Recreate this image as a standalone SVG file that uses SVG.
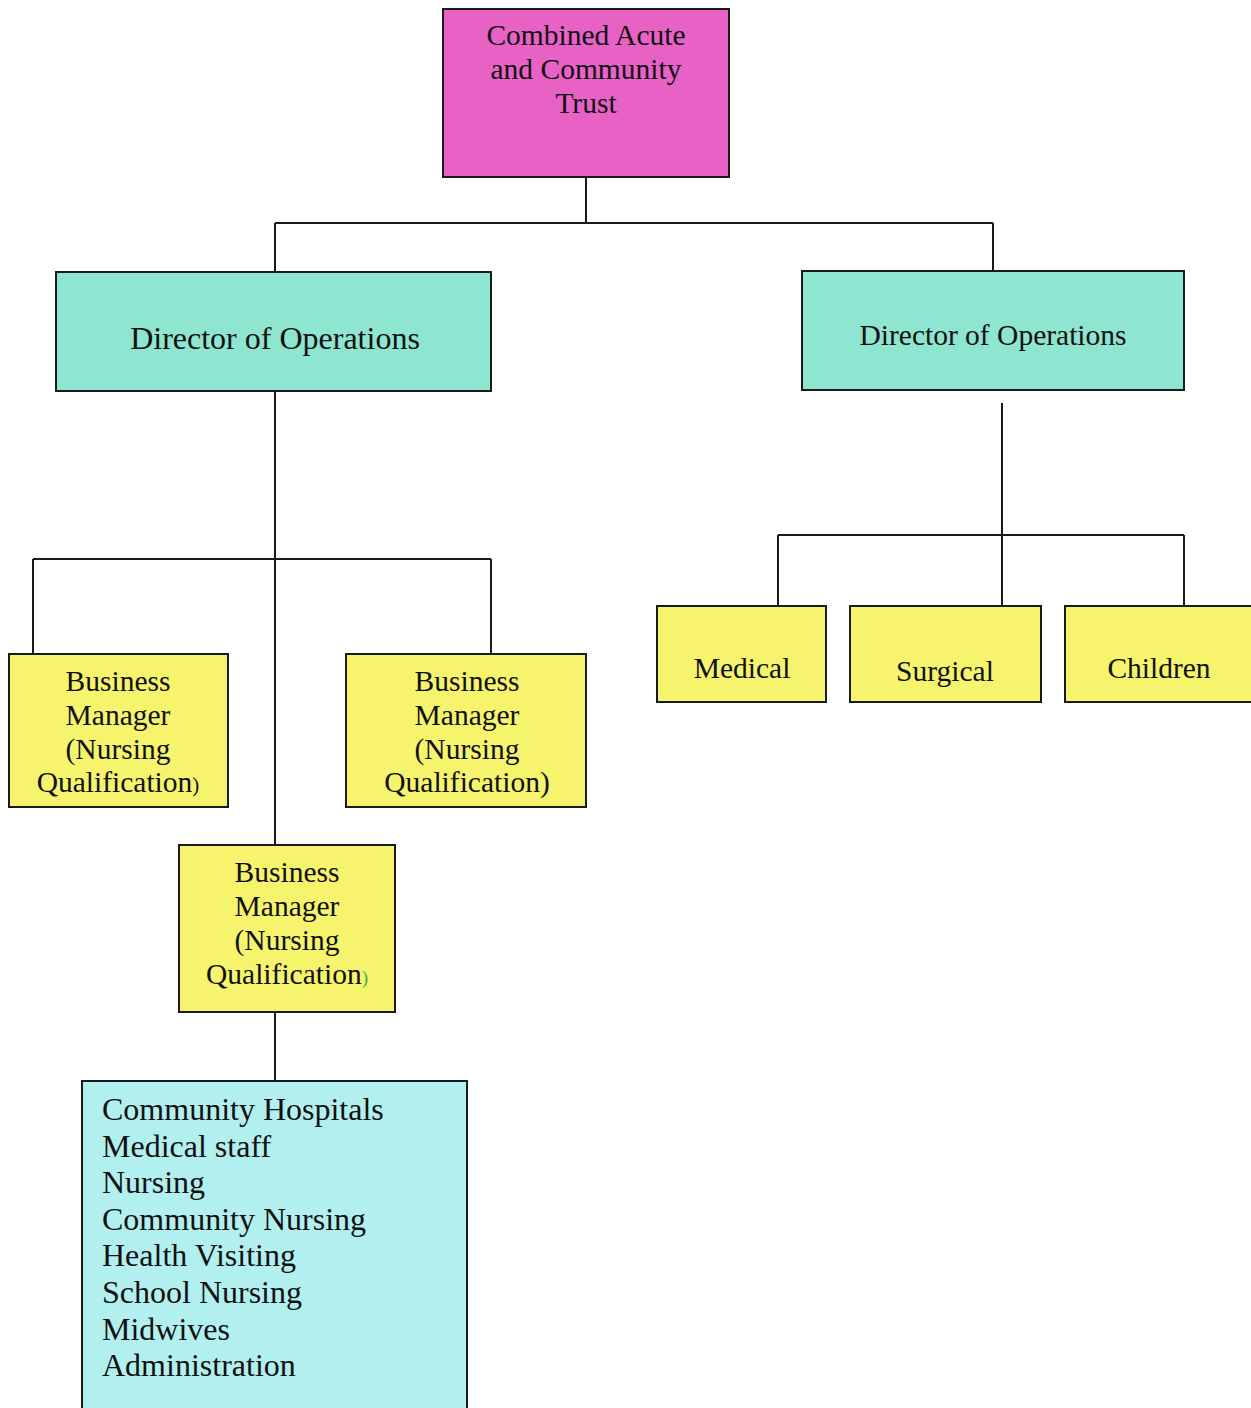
<svg xmlns="http://www.w3.org/2000/svg" width="1251" height="1408" viewBox="0 0 1251 1408" font-family="'Liberation Serif', 'Times New Roman', 'DejaVu Serif', serif">
  <style>
    .box { stroke: #1a1a1a; stroke-width: 2; }
    .trust { fill: #E862C6; }
    .dir { fill: #8EE6D0; }
    .unit { fill: #F6F46C; }
    .list { fill: #B2F0F0; }
    .wire { stroke: #1a1a1a; stroke-width: 2; fill: none; }
    text { fill: #111; }
    .c { text-anchor: middle; font-size: 29.5px; }
    .big { text-anchor: middle; font-size: 32px; }
    .l { font-size: 32px; }
  </style>
  <rect width="1251" height="1408" fill="#ffffff"/>

  <g id="connectors">
    <path class="wire" d="M586 177 V223 M275 223 H993 M275 223 V272 M993 223 V271"/>
    <path class="wire" d="M275 391 V845 M33 559 H491 M33 559 V654 M491 559 V654"/>
    <path class="wire" d="M275 1012 V1081"/>
    <path class="wire" d="M1002 403 V606 M778 535 H1184 M778 535 V606 M1184 535 V606"/>
  </g>

  <g id="trust">
    <rect class="box trust" x="443" y="9" width="286" height="168"/>
    <text class="c" x="586" y="45">Combined Acute</text>
    <text class="c" x="586" y="79">and Community</text>
    <text class="c" x="586" y="113">Trust</text>
  </g>

  <g id="director-left">
    <rect class="box dir" x="56" y="272" width="435" height="119"/>
    <text class="big" x="275" y="349">Director of Operations</text>
  </g>

  <g id="director-right">
    <rect class="box dir" x="802" y="271" width="382" height="119"/>
    <text class="c" x="993" y="345">Director of Operations</text>
  </g>

  <g id="business-manager-1">
    <rect class="box unit" x="9" y="654" width="219" height="153"/>
    <text class="c" x="118" y="691">Business</text>
    <text class="c" x="118" y="725">Manager</text>
    <text class="c" x="118" y="759">(Nursing</text>
    <text class="c" x="118" y="792">Qualification<tspan font-size="21">)</tspan></text>
  </g>

  <g id="business-manager-2">
    <rect class="box unit" x="346" y="654" width="240" height="153"/>
    <text class="c" x="467" y="691">Business</text>
    <text class="c" x="467" y="725">Manager</text>
    <text class="c" x="467" y="759">(Nursing</text>
    <text class="c" x="467" y="792">Qualification)</text>
  </g>

  <g id="business-manager-3">
    <rect class="box unit" x="179" y="845" width="216" height="167"/>
    <text class="c" x="287" y="882">Business</text>
    <text class="c" x="287" y="916">Manager</text>
    <text class="c" x="287" y="950">(Nursing</text>
    <text class="c" x="287" y="984">Qualification<tspan font-size="19" fill="#3cb043">)</tspan></text>
  </g>

  <g id="community-services">
    <rect class="box list" x="82" y="1081" width="385" height="340"/>
    <text class="l" x="102" y="1120">Community Hospitals</text>
    <text class="l" x="102" y="1157">Medical staff</text>
    <text class="l" x="102" y="1193">Nursing</text>
    <text class="l" x="102" y="1230">Community Nursing</text>
    <text class="l" x="102" y="1266">Health Visiting</text>
    <text class="l" x="102" y="1303">School Nursing</text>
    <text class="l" x="102" y="1340">Midwives</text>
    <text class="l" x="102" y="1376">Administration</text>
  </g>

  <g id="medical">
    <rect class="box unit" x="657" y="606" width="169" height="96"/>
    <text class="c" x="742" y="678">Medical</text>
  </g>

  <g id="surgical">
    <rect class="box unit" x="850" y="606" width="191" height="96"/>
    <text class="c" x="945" y="681">Surgical</text>
  </g>

  <g id="children">
    <rect class="box unit" x="1065" y="606" width="200" height="96"/>
    <text class="c" x="1159" y="678">Children</text>
  </g>
</svg>
